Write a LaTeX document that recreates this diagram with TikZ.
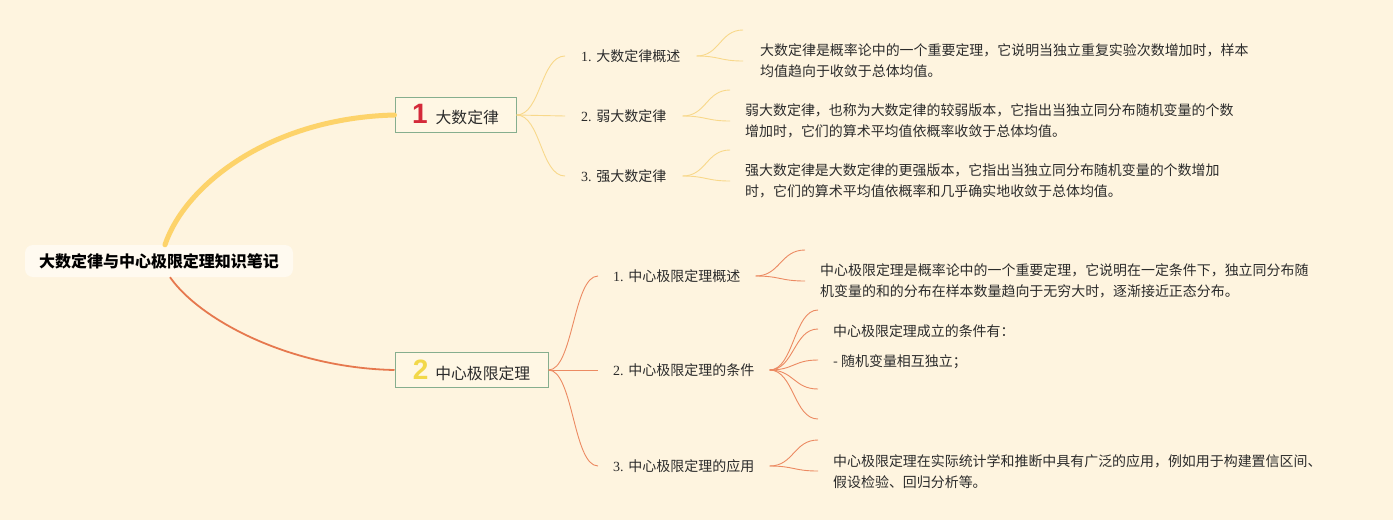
\documentclass[tikz,border=0pt]{standalone}
\usepackage{fontspec}
\setmainfont{Liberation Serif}
\newfontfamily\cjk{Noto Sans CJK SC}
\newfontfamily\numfont{Liberation Sans}
\usetikzlibrary{calc}
\definecolor{bg}{HTML}{FEF4DF}
\definecolor{thickY}{HTML}{FDD36A}
\definecolor{thinY}{HTML}{F8D88A}
\definecolor{org}{HTML}{E6784E}
\definecolor{orgthin}{HTML}{EC8A62}
\definecolor{boxline}{HTML}{86AE8E}
\definecolor{boxfill}{HTML}{FFF7E4}
\definecolor{rootfill}{HTML}{FFFAF0}
\definecolor{numred}{HTML}{D42A3A}
\definecolor{numyel}{HTML}{F2D84A}
\definecolor{txt}{HTML}{2B2B2B}
\tikzset{
  hc/.style={to path={let \p1=(\tikztostart), \p2=(\tikztotarget) in
     .. controls ({(\x1+\x2)/2},\y1) and ({(\x1+\x2)/2},\y2) .. (\tikztotarget)}},
  rootbox/.style={fill=rootfill, rounded corners=8pt, minimum width=268pt, minimum height=32pt,
     inner sep=0pt, font=\fontsize{16}{18}\selectfont\cjk\bfseries, text=black},
  branchbox/.style={draw=boxline, line width=1pt, fill=boxfill, minimum height=35pt,
     inner sep=0pt, font=\fontsize{15.8}{18}\selectfont\cjk, text=txt},
  sublabel/.style={anchor=west, inner ysep=2pt, font=\fontsize{14}{17}\selectfont, text=txt},
  leaf/.style={anchor=west, inner sep=0pt, align=left, font=\fontsize{13.95}{21}\selectfont\cjk, text=txt},
  ylink/.style={draw=thinY, line width=0.9pt},
  olink/.style={draw=orgthin, line width=0.9pt},
}
\begin{document}
\begin{tikzpicture}[x=1pt,y=-1pt]
\fill[bg] (0,0) rectangle (1393,520);
\useasboundingbox (0,0) rectangle (1393,520);

% root and main branches
\node[rootbox] (root) at (159,261) {大数定律与中心极限定理知识笔记};
\node[branchbox, minimum width=121pt] (b1) at (455.5,115)
  {{\numfont\bfseries\fontsize{28}{28}\selectfont\color{numred}1}\hspace{8pt}大数定律};
\node[branchbox, minimum width=153pt] (b2) at (471.5,370)
  {{\numfont\bfseries\fontsize{28}{28}\selectfont\color{numyel}2}\hspace{7pt}中心极限定理};

\draw[thickY, line width=5pt, line cap=round] ([xshift=6pt]root.north) .. controls (185,185) and (270,118) .. (b1.west);
\draw[org, line width=1.8pt] ([xshift=11pt]root.south) .. controls (200,320) and (290,368) .. (b2.west);

% sub labels, branch 1
\node[sublabel, inner xsep=16pt] (c11) at (565,56) {1. {\cjk 大数定律概述}};
\node[sublabel, inner xsep=16pt] (c12) at (565,116) {2. {\cjk 弱大数定律}};
\node[sublabel, inner xsep=16pt] (c13) at (565,176) {3. {\cjk 强大数定律}};
\draw[ylink] (b1.east) to[hc] (c11.west);
\draw[ylink] (b1.east) to[hc] (c12.west);
\draw[ylink] (b1.east) to[hc] (c13.west);

% sub labels, branch 2
\node[sublabel, inner xsep=15pt] (c21) at (598,276) {1. {\cjk 中心极限定理概述}};
\node[sublabel, inner xsep=15pt] (c22) at (598,370) {2. {\cjk 中心极限定理的条件}};
\node[sublabel, inner xsep=15pt] (c23) at (598,466) {3. {\cjk 中心极限定理的应用}};
\draw[olink] (b2.east) to[hc] (c21.west);
\draw[olink] (b2.east) to[hc] (c22.west);
\draw[olink] (b2.east) to[hc] (c23.west);

% leaf ends
\coordinate (e11a) at (743,30);  \coordinate (e11b) at (743,61);
\coordinate (e12a) at (730,90);  \coordinate (e12b) at (730,121);
\coordinate (e13a) at (730,150); \coordinate (e13b) at (730,181);
\coordinate (e21a) at (805,250); \coordinate (e21b) at (805,281);
\coordinate (e22a) at (818,310); \coordinate (e22b) at (818,329);
\coordinate (e22c) at (818,360); \coordinate (e22d) at (818,389);
\coordinate (e22e) at (818,419);
\coordinate (e23a) at (818,440); \coordinate (e23b) at (818,471);

\foreach \e in {e11a,e11b} \draw[ylink] (c11.east) to[hc] (\e);
\foreach \e in {e12a,e12b} \draw[ylink] (c12.east) to[hc] (\e);
\foreach \e in {e13a,e13b} \draw[ylink] (c13.east) to[hc] (\e);
\foreach \e in {e21a,e21b} \draw[olink] (c21.east) to[hc] (\e);
\foreach \e in {e22a,e22b,e22c,e22d,e22e} \draw[olink] (c22.east) to[hc] (\e);
\foreach \e in {e23a,e23b} \draw[olink] (c23.east) to[hc] (\e);

% leaf texts
\node[leaf] (l11) at (760,61) {大数定律是概率论中的一个重要定理，它说明当独立重复实验次数增加时，样本\\均值趋向于收敛于总体均值。};
\node[leaf] (l12) at (745,121) {弱大数定律，也称为大数定律的较弱版本，它指出当独立同分布随机变量的个数\\增加时，它们的算术平均值依概率收敛于总体均值。};
\node[leaf] (l13) at (745,181) {强大数定律是大数定律的更强版本，它指出当独立同分布随机变量的个数增加\\时，它们的算术平均值依概率和几乎确实地收敛于总体均值。};
\node[leaf] (l21) at (820,280.5) {中心极限定理是概率论中的一个重要定理，它说明在一定条件下，独立同分布随\\机变量的和的分布在样本数量趋向于无穷大时，逐渐接近正态分布。};
\node[leaf] (l22a) at (833,331) {中心极限定理成立的条件有：};
\node[leaf] (l22b) at (833,362) {- 随机变量相互独立；};
\node[leaf] (l23) at (833,472) {中心极限定理在实际统计学和推断中具有广泛的应用，例如用于构建置信区间、\\假设检验、回归分析等。};
\end{tikzpicture}
\end{document}
